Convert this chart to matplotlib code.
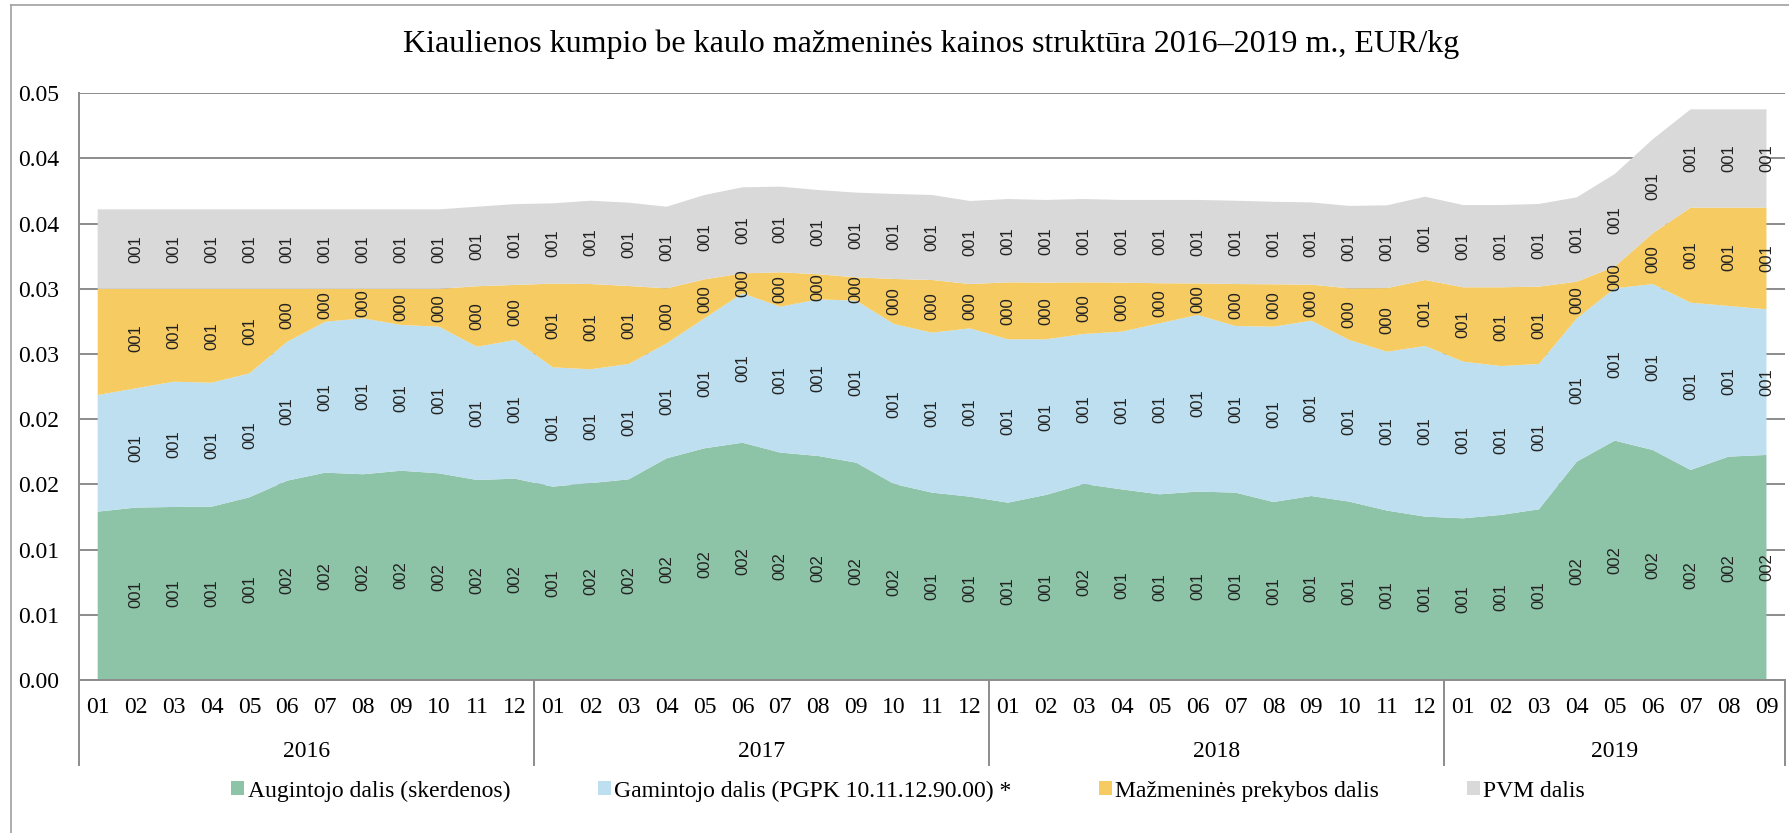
import numpy as np
import matplotlib
matplotlib.use('Agg')
import matplotlib.pyplot as plt
import matplotlib.transforms as mtransforms
from matplotlib.lines import Line2D

TITLE = 'Kiaulienos kumpio be kaulo mažmeninės kainos struktūra 2016–2019 m., EUR/kg'

# categories: months grouped by year
years = ['2016', '2017', '2018', '2019']
months_in_year = [12, 12, 12, 9]
month_labels = [f'{m:02d}' for n in months_in_year for m in range(1, n + 1)]

# EUR/kg (stacked components)
augintojo = [0.01291, 0.01322, 0.01327, 0.01329, 0.01401, 0.01529, 0.01590, 0.01578, 0.01605, 0.01585,
             0.01534, 0.01544, 0.01483, 0.01510, 0.01539, 0.01700, 0.01777, 0.01820, 0.01744, 0.01718,
             0.01667, 0.01503, 0.01437, 0.01406, 0.01360, 0.01419, 0.01503, 0.01462, 0.01424, 0.01445,
             0.01437, 0.01365, 0.01411, 0.01368, 0.01299, 0.01253, 0.01240, 0.01266, 0.01309, 0.01675,
             0.01836, 0.01764, 0.01611, 0.01713, 0.01726]
gamintojo = [0.00895, 0.00915, 0.00961, 0.00951, 0.00951, 0.01066, 0.01158, 0.01196, 0.01118, 0.01125,
             0.01022, 0.01064, 0.00915, 0.00873, 0.00885, 0.00882, 0.00997, 0.01146, 0.01119, 0.01202,
             0.01242, 0.01227, 0.01227, 0.01291, 0.01253, 0.01194, 0.01151, 0.01210, 0.01312, 0.01355,
             0.01278, 0.01345, 0.01345, 0.01240, 0.01219, 0.01309, 0.01202, 0.01142, 0.01115, 0.01099,
             0.01168, 0.01273, 0.01283, 0.01156, 0.01117]
mazmenines = [0.00814, 0.00763, 0.00712, 0.00720, 0.00648, 0.00405, 0.00252, 0.00226, 0.00277, 0.00290,
              0.00464, 0.00422, 0.00642, 0.00654, 0.00598, 0.00422, 0.00299, 0.00153, 0.00264, 0.00192,
              0.00179, 0.00346, 0.00404, 0.00340, 0.00437, 0.00435, 0.00396, 0.00376, 0.00307, 0.00242,
              0.00322, 0.00325, 0.00276, 0.00396, 0.00488, 0.00506, 0.00570, 0.00604, 0.00593, 0.00281,
              0.00166, 0.00389, 0.00729, 0.00754, 0.00780]
pvm = [0.00610, 0.00610, 0.00610, 0.00610, 0.00610, 0.00610, 0.00610, 0.00610, 0.00610, 0.00610,
       0.00610, 0.00620, 0.00616, 0.00639, 0.00639, 0.00626, 0.00647, 0.00660, 0.00657, 0.00646,
       0.00650, 0.00652, 0.00652, 0.00637, 0.00639, 0.00634, 0.00639, 0.00634, 0.00639, 0.00640,
       0.00639, 0.00633, 0.00631, 0.00632, 0.00635, 0.00639, 0.00631, 0.00631, 0.00634, 0.00647,
       0.00711, 0.00721, 0.00754, 0.00754, 0.00754]

series_names = ['Augintojo dalis (skerdenos)', 'Gamintojo dalis (PGPK 10.11.12.90.00) *',
                'Mažmeninės prekybos dalis', 'PVM dalis']
y_tick_labels = ['0.00', '0.01', '0.01', '0.02', '0.02', '0.03', '0.03', '0.04', '0.04', '0.05']

colors = ['#8DC3A7', '#BDDFEF', '#F5CB62', '#D9D9D9']
GRID = '#8c8c8c'
SERIF = 'Liberation Serif'

fig = plt.figure(figsize=(17.89, 8.33), dpi=100)
ax = fig.add_axes([0.044, 0.1837, 0.954, 0.7043])

x = np.arange(len(month_labels))
series = [augintojo, gamintojo, mazmenines, pvm]
ax.stackplot(x, *series, colors=colors, labels=series_names)

ax.set_xlim(-0.5, len(x) - 0.5)
ax.set_ylim(0, 0.045)
ax.set_yticks(np.arange(len(y_tick_labels)) * 0.005)
ax.set_yticklabels(y_tick_labels, family=SERIF, fontsize=17)
ax.set_xticks(x)
ax.set_xticklabels(month_labels, family=SERIF, fontsize=17)
ax.tick_params(axis='y', length=0, pad=14)
ax.tick_params(axis='x', length=0, pad=12)
ax.yaxis.grid(True, color=GRID, linewidth=1.4)
ax.set_axisbelow(True)
for s in ['top', 'right']:
    ax.spines[s].set_visible(False)
for s in ['left', 'bottom']:
    ax.spines[s].set_color(GRID)
    ax.spines[s].set_linewidth(1.4)

# data labels in the middle of each band (first point has none)
base = np.zeros(len(x))
for vals in series:
    vals = np.array(vals)
    for i in range(1, len(x)):
        ax.text(x[i], base[i] + vals[i] / 2, f'{vals[i] * 100:03.0f}', rotation=90,
                ha='center', va='center', fontsize=12, family='Liberation Sans', color='#222222')
    base += vals

# year groups under the month labels
trans = mtransforms.blended_transform_factory(ax.transData, ax.transAxes)
edges = np.concatenate([[0], np.cumsum(months_in_year)]) - 0.5
for e in edges:
    ax.plot([e, e], [0, -0.145], transform=trans, color=GRID, linewidth=1.4, clip_on=False)
for yr, a, b in zip(years, edges[:-1], edges[1:]):
    ax.text((a + b) / 2, -0.1227, yr, transform=trans, ha='center', va='center',
            family=SERIF, fontsize=17)

fig.text(931 / 1789, 1 - 44 / 833, TITLE, ha='center', va='center', family=SERIF, fontsize=23)

handles, labels = ax.get_legend_handles_labels()
fig.legend(handles, labels, loc='center', bbox_to_anchor=(908 / 1789, 1 - 791 / 833), ncol=4,
           frameon=False, prop={'family': SERIF, 'size': 17}, handlelength=0.55, handleheight=0.55,
           handletextpad=0.15, columnspacing=3.7)

# chart border (left and top edges visible)
bx, by = 11 / 1789, 1 - 5 / 833
fig.add_artist(Line2D([bx, bx], [0, by], transform=fig.transFigure, color='#a0a0a0', linewidth=1.2))
fig.add_artist(Line2D([bx, 1], [by, by], transform=fig.transFigure, color='#a0a0a0', linewidth=1.2))

fig.savefig('out.png', dpi=100)
